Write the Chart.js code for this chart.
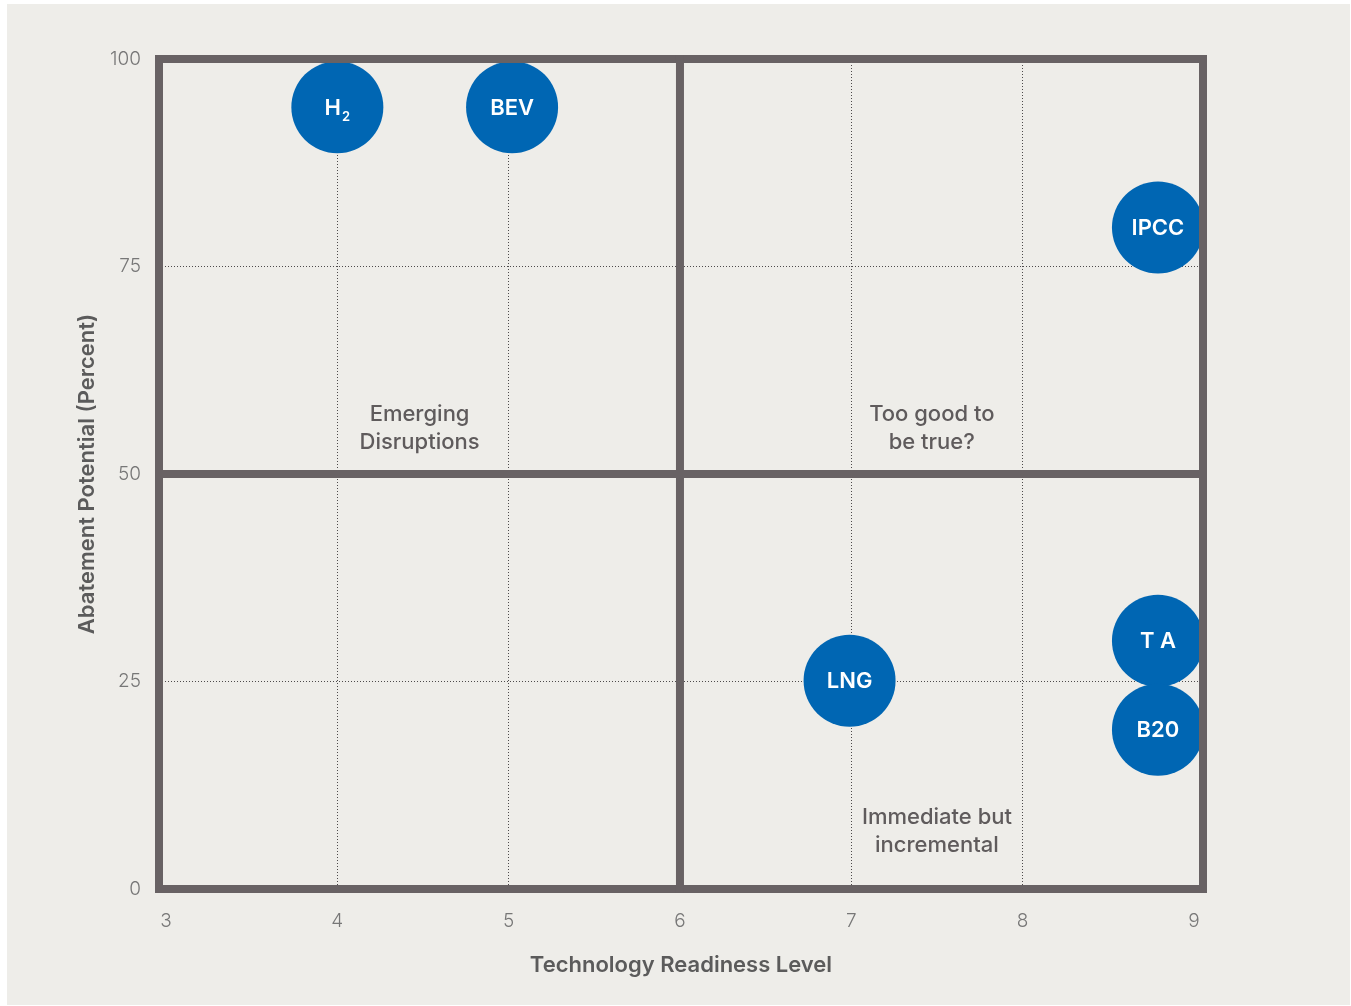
<!DOCTYPE html>
<html>
<head>
<meta charset="utf-8">
<script src="https://cdn.jsdelivr.net/npm/chart.js"></script>
<style>
html, body { margin: 0; padding: 0; background: #fff; }
#wrap { width: 1351px; height: 1006px; }
</style>
</head>
<body>
<div id="wrap"><canvas id="matrixChart" width="1351" height="1006"></canvas></div>
<script>
// datos
const techNames = ['H2', 'BEV', 'IPCC', 'LNG', 'T A', 'B20'];
const readiness = [4.0, 5.02, 8.79, 6.99, 8.79, 8.79];
const abatement = [94.2, 94.2, 79.7, 25.1, 29.9, 19.2];
const xTicks = [3, 4, 5, 6, 7, 8, 9];
const yTicks = [0, 25, 50, 75, 100];
const hiddenX = [3, 6, 9];     // sin linea punteada (marco / division)
const hiddenY = [0, 50, 100];
const midX = 6;
const midY = 50;
const quadrantText = [['Emerging', 'Disruptions'], ['Too good to', 'be true?'], ['Immediate but', 'incremental']];
const quadrantTextX = [4.48, 7.47, 7.5];
const quadrantTextY = [55.45, 55.45, 6.95];

const FONT = 'Inter';
const lineColor = '#686264';

const points = techNames.map((n, i) => ({ x: readiness[i], y: abatement[i] }));

// fondo gris del panel
const panelBg = {
    id: 'panelBg',
    beforeDraw(chart) {
        const ctx = chart.ctx;
        ctx.save();
        ctx.fillStyle = '#ffffff';
        ctx.fillRect(0, 0, chart.width, chart.height);
        ctx.fillStyle = '#eeede9';
        ctx.fillRect(7, 4, chart.width - 8, chart.height - 5);
        ctx.restore();
    }
};

// marco, lineas de cuadrantes y textos
const quadrants = {
    id: 'quadrants',
    beforeDatasetsDraw(chart) {
        const { ctx, scales: { x, y } } = chart;
        ctx.save();
        ctx.fillStyle = '#5f5b5c';
        ctx.font = '500 22px ' + FONT;
        ctx.textAlign = 'center';
        ctx.textBaseline = 'middle';
        quadrantText.forEach((lines, i) => {
            const cx = x.getPixelForValue(quadrantTextX[i]);
            const cy = y.getPixelForValue(quadrantTextY[i]);
            ctx.fillText(lines[0], cx, cy - 14);
            ctx.fillText(lines[1], cx, cy + 14);
        });
        ctx.restore();
    },
    afterDatasetsDraw(chart) {
        const { ctx, chartArea: a, scales: { x, y } } = chart;
        ctx.save();
        ctx.strokeStyle = lineColor;
        ctx.lineWidth = 8;
        ctx.lineCap = 'square';
        ctx.strokeRect(a.left, a.top, a.right - a.left, a.bottom - a.top);
        const px = x.getPixelForValue(midX);
        ctx.beginPath(); ctx.moveTo(px, a.top); ctx.lineTo(px, a.bottom); ctx.stroke();
        const py = y.getPixelForValue(midY);
        ctx.beginPath(); ctx.moveTo(a.left, py); ctx.lineTo(a.right, py); ctx.stroke();

        // etiquetas de las burbujas
        const meta = chart.getDatasetMeta(0);
        ctx.fillStyle = '#ffffff';
        ctx.textBaseline = 'middle';
        meta.data.forEach((el, i) => {
            const name = techNames[i];
            if (name === 'H2') {
                ctx.font = '600 22px ' + FONT;
                const wH = ctx.measureText('H').width;
                ctx.font = '600 13px ' + FONT;
                const w2 = ctx.measureText('2').width;
                const start = el.x - (wH + w2 + 1) / 2;
                ctx.textAlign = 'left';
                ctx.font = '600 22px ' + FONT;
                ctx.fillText('H', start, el.y + 1);
                ctx.font = '600 13px ' + FONT;
                ctx.fillText('2', start + wH + 1, el.y + 10);
            } else {
                ctx.textAlign = 'center';
                ctx.font = '600 22px ' + FONT;
                ctx.fillText(name, el.x, el.y + 1);
            }
        });
        ctx.restore();
    }
};

new Chart('matrixChart', {
    type: 'bubble',
    data: {
        datasets: [{
            data: points,
            radius: 46,
            hoverRadius: 46,
            backgroundColor: '#0066b3',
            borderWidth: 0,
            hoverBorderWidth: 0,
            clip: false
        }]
    },
    options: {
        responsive: false,
        animation: false,
        devicePixelRatio: 1,
        layout: { padding: { top: 59, right: 148, left: 0, bottom: 0 } },
        plugins: {
            legend: { display: false },
            tooltip: { enabled: false }
        },
        scales: {
            x: {
                type: 'linear',
                min: 2.959,
                max: 9.053,
                afterBuildTicks: s => { s.ticks = xTicks.map(v => ({ value: v })); },
                afterFit: s => { s.height = 117; },
                ticks: { color: '#777', padding: 21, font: { family: FONT, size: 19, weight: '300' } },
                grid: { drawTicks: false, lineWidth: 1, color: c => (hiddenX.includes(c.tick.value) ? 'rgba(0,0,0,0)' : '#4d4a4b') },
                border: { display: false, dash: [1, 2] },
                title: {
                    display: true,
                    text: 'Technology Readiness Level',
                    color: '#5b5b5b',
                    font: { family: FONT, size: 22, weight: '600' },
                    padding: { top: 0, bottom: 27 }
                }
            },
            y: {
                type: 'linear',
                min: 0,
                max: 100,
                afterBuildTicks: s => { s.ticks = yTicks.map(v => ({ value: v })); },
                afterFit: s => { s.width = 159; },
                ticks: { color: '#777', padding: 18, font: { family: FONT, size: 19, weight: '300' } },
                grid: { drawTicks: false, lineWidth: 1, color: c => (hiddenY.includes(c.tick.value) ? 'rgba(0,0,0,0)' : '#4d4a4b') },
                border: { display: false, dash: [1, 2] },
                title: {
                    display: true,
                    text: 'Abatement Potential (Percent)',
                    color: '#5b5b5b',
                    font: { family: FONT, size: 22, weight: '600' },
                    padding: { top: 74, bottom: 0 }
                }
            }
        }
    },
    plugins: [panelBg, quadrants]
});
</script>
</body>
</html>
